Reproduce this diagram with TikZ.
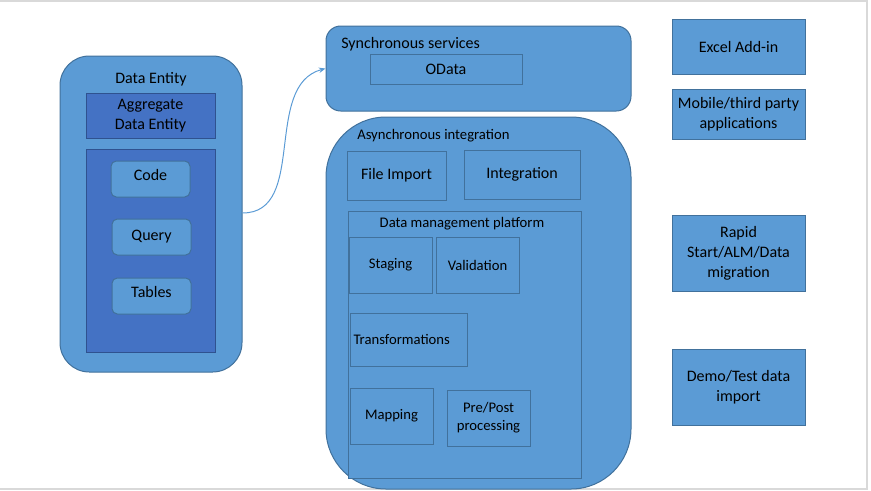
\documentclass[tikz,border=0pt]{standalone}
\usepackage{fontspec}
\setmainfont{Carlito}
\usepackage{tikz}
\usetikzlibrary{arrows.meta}

\definecolor{boxfill}{HTML}{5B9BD5}
\definecolor{boxedge}{HTML}{41719C}
\definecolor{darkfill}{HTML}{4472C4}
\definecolor{darkedge}{HTML}{2F528F}
\definecolor{framegray}{HTML}{D9D9D9}

\begin{document}
\begin{tikzpicture}[x=0.75pt,y=-0.75pt,
    box/.style={draw=boxedge,fill=boxfill,line width=0.75pt,inner sep=0pt,align=center,font=\fontsize{12}{15}\selectfont},
    darkbox/.style={box,draw=darkedge,fill=darkfill},
    smallbox/.style={box,font=\fontsize{11}{13.5}\selectfont},
    label/.style={inner sep=0pt,font=\fontsize{12}{15}\selectfont},
    smalllabel/.style={inner sep=0pt,font=\fontsize{11}{13.5}\selectfont}]
\useasboundingbox (0,0) rectangle (871,490);
\draw[framegray,line width=1pt] (0,1) -- (867,1) -- (867,490);
\draw[framegray,line width=1pt] (0,489) -- (867,489);

% data entity
\node[box,rounded corners=22pt,minimum width=182*0.75pt,minimum height=316*0.75pt] (entity) at (151,214) {};
\node[label] (entitylabel) at (151,79) {Data Entity};
\node[darkbox,minimum width=129*0.75pt,minimum height=45*0.75pt] (aggregate) at (150.5,115.5) {Aggregate\\Data Entity};
\node[darkbox,minimum width=129*0.75pt,minimum height=203*0.75pt] (inner) at (150.5,250.5) {};
\node[box,rounded corners=4pt,minimum width=79*0.75pt,minimum height=36*0.75pt] (code) at (150.5,179) {\raisebox{6pt}{Code}};
\node[box,rounded corners=4pt,minimum width=79*0.75pt,minimum height=36*0.75pt] (query) at (151.5,237) {Query};
\node[box,rounded corners=4pt,minimum width=79*0.75pt,minimum height=36*0.75pt] (tables) at (151.5,296) {\raisebox{6pt}{Tables}};

% synchronous services
\node[box,rounded corners=11pt,minimum width=305*0.75pt,minimum height=85*0.75pt] (sync) at (478.5,68.5) {};
\node[label,anchor=west] (synclabel) at (341,44) {Synchronous services};
\node[box,minimum width=152*0.75pt,minimum height=30*0.75pt] (odata) at (446,69) {OData};

% asynchronous integration
\node[box,rounded corners=45pt,minimum width=305*0.75pt,minimum height=372*0.75pt] (async) at (478.5,303) {};
\node[smalllabel,anchor=west] (asynclabel) at (357,136) {Asynchronous integration};
\node[box,minimum width=99*0.75pt,minimum height=49*0.75pt] (fileimport) at (396.5,175.5) {File Import};
\node[box,minimum width=116*0.75pt,minimum height=49*0.75pt] (integration) at (522,174.5) {Integration};
\node[box,minimum width=233*0.75pt,minimum height=267*0.75pt] (dmp) at (464.5,344.5) {};
\node[smalllabel] (dmplabel) at (462,224) {Data management platform};
\node[smallbox,minimum width=83*0.75pt,minimum height=56*0.75pt] (staging) at (390.5,265) {Staging};
\node[smallbox,minimum width=83*0.75pt,minimum height=56*0.75pt] (validation) at (477.5,265) {Validation};
\node[smallbox,minimum width=117*0.75pt,minimum height=53*0.75pt,text width=110*0.75pt,align=left] (transform) at (408.5,339.5) {Transformations};
\node[smallbox,minimum width=83*0.75pt,minimum height=56*0.75pt] (mapping) at (391.5,416) {Mapping};
\node[smallbox,minimum width=83*0.75pt,minimum height=56*0.75pt] (prepost) at (488.5,418) {Pre/Post\\processing};

% consumers
\node[box,minimum width=133*0.75pt,minimum height=55*0.75pt] (excel) at (738.5,46.5) {Excel Add-in};
\node[box,minimum width=133*0.75pt,minimum height=50*0.75pt] (mobile) at (738.5,114) {Mobile/third party\\applications};
\node[box,minimum width=133*0.75pt,minimum height=76*0.75pt] (rapid) at (738.5,253) {Rapid\\Start/ALM/Data\\migration};
\node[box,minimum width=133*0.75pt,minimum height=76*0.75pt] (demo) at (738.5,387) {Demo/Test data\\import};

\draw[boxfill,line width=0.75pt,-{Stealth[length=5pt,width=4pt]}] (entity.east) ++(0,-1) to[out=0,in=195] (sync.west);
\end{tikzpicture}
\end{document}
